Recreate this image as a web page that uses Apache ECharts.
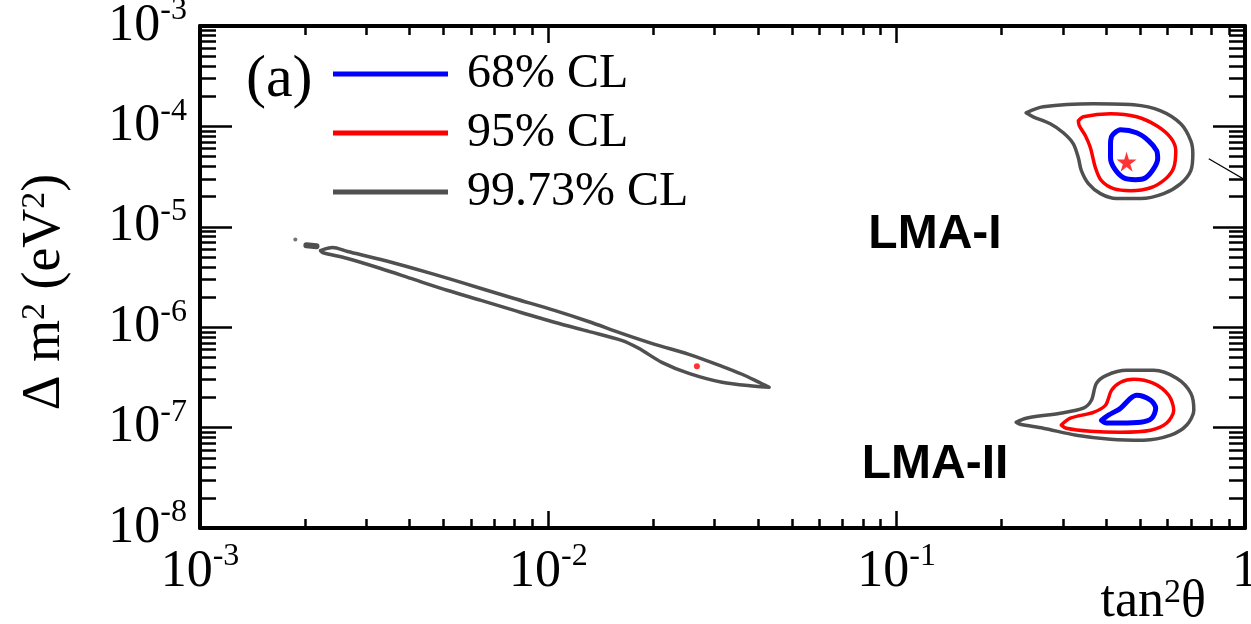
<!DOCTYPE html>
<html><head><meta charset="utf-8">
<script src="https://cdn.jsdelivr.net/npm/echarts@6/dist/echarts.min.js"></script>
<style>html,body{margin:0;padding:0;background:#fff}#c{width:1251px;height:624px}</style>
</head><body><div id="c"></div>
<script>
// ---- axis ticks ----
const xMajorTicks = [0.001, 0.01, 0.1, 1];
const xMinorTicks = [0.002,0.003,0.004,0.005,0.006,0.007,0.008,0.009,
                     0.02,0.03,0.04,0.05,0.06,0.07,0.08,0.09,
                     0.2,0.3,0.4,0.5,0.6,0.7,0.8,0.9];
const yMajorTicks = [1e-8, 1e-7, 1e-6, 1e-5, 1e-4, 1e-3];
const yMinorTicks = [2e-8,3e-8,4e-8,5e-8,6e-8,7e-8,8e-8,9e-8,
                     2e-7,3e-7,4e-7,5e-7,6e-7,7e-7,8e-7,9e-7,
                     2e-6,3e-6,4e-6,5e-6,6e-6,7e-6,8e-6,9e-6,
                     2e-5,3e-5,4e-5,5e-5,6e-5,7e-5,8e-5,9e-5,
                     2e-4,3e-4,4e-4,5e-4,6e-4,7e-4,8e-4,9e-4];
const legendNames = ['68% CL', '95% CL', '99.73% CL'];

// ---- contours [tan^2 theta, delta m^2] ----
const lma1Gray = [[0.2353,1.365e-4],[0.2634,1.566e-4],[0.3671,1.678e-4],[0.4788,1.639e-4],[0.5728,1.429e-4],
  [0.6540,1.061e-4],[0.6990,7.19e-5],[0.7083,5.34e-5],[0.6990,3.62e-5],[0.6540,2.69e-5],[0.5843,2.14e-5],
  [0.5016,1.91e-5],[0.4277,1.91e-5],[0.3846,2.14e-5],[0.3552,2.69e-5],[0.3390,3.62e-5],[0.3323,4.87e-5],
  [0.3215,6.71e-5],[0.3009,8.64e-5],[0.2760,1.061e-4],[0.2465,1.246e-4],[0.2353,1.365e-4]];
const lma1Red = [[0.3323,1.137e-4],[0.3436,1.246e-4],[0.4110,1.334e-4],[0.4885,1.246e-4],[0.5578,1.014e-4],
  [0.6120,7.70e-5],[0.6327,5.72e-5],[0.6243,3.88e-5],[0.5921,3.01e-5],[0.5360,2.45e-5],[0.4694,2.29e-5],
  [0.4193,2.40e-5],[0.3871,2.88e-5],[0.3720,3.88e-5],[0.3599,6.13e-5],[0.3482,8.07e-5],[0.3345,1.014e-4],
  [0.3323,1.137e-4]];
const lma1Blue = [[0.4193,8.44e-5],[0.4393,9.25e-5],[0.4885,8.64e-5],[0.5289,7.19e-5],[0.5578,5.72e-5],
  [0.5615,4.76e-5],[0.5468,3.79e-5],[0.5185,3.08e-5],[0.4852,2.95e-5],[0.4481,3.08e-5],[0.4221,3.79e-5],
  [0.4110,4.87e-5],[0.4110,6.71e-5],[0.4137,7.88e-5],[0.4193,8.44e-5]];
const bestFit = [[0.4571,4.45e-5]];

const lma2Gray = [[0.2203,1.13e-7],[0.2353,1.24e-7],[0.2949,1.39e-7],[0.3436,1.56e-7],[0.3623,1.87e-7],
  [0.3745,2.76e-7],[0.4002,3.32e-7],[0.4571,3.72e-7],[0.5468,3.72e-7],[0.6368,3.10e-7],[0.6990,2.20e-7],
  [0.7130,1.49e-7],[0.6806,1.06e-7],[0.6120,8.41e-8],[0.5117,7.50e-8],[0.4110,7.67e-8],[0.3280,8.41e-8],
  [0.2634,9.86e-8],[0.2262,1.08e-7],[0.2203,1.13e-7]];
const lma2Red = [[0.2969,1.06e-7],[0.3152,1.24e-7],[0.3671,1.42e-7],[0.3975,1.67e-7],[0.4137,2.35e-7],
  [0.4393,2.83e-7],[0.4788,3.03e-7],[0.5468,2.76e-7],[0.6039,2.10e-7],[0.6243,1.49e-7],[0.5960,1.11e-7],
  [0.5360,9.42e-8],[0.4393,9.00e-8],[0.3599,9.21e-8],[0.3069,9.86e-8],[0.2969,1.06e-7]];
const lma2Blue = [[0.3871,1.18e-7],[0.4056,1.33e-7],[0.4393,1.56e-7],[0.4694,1.96e-7],[0.4885,2.10e-7],
  [0.5360,1.87e-7],[0.5541,1.56e-7],[0.5396,1.24e-7],[0.5016,1.13e-7],[0.4393,1.11e-7],[0.4002,1.11e-7],
  [0.3871,1.18e-7]];

const lowGray = [[2.218e-3,5.80e-6],[2.402e-3,6.21e-6],[2.652e-3,5.67e-6],[3.302e-3,4.72e-6],[4.111e-3,3.84e-6],
  [5.150e-3,3.06e-6],[6.411e-3,2.43e-6],[7.980e-3,1.93e-6],[1.041e-2,1.47e-6],[1.304e-2,1.14e-6],
  [1.623e-2,8.68e-7],[2.021e-2,6.75e-7],[2.532e-2,5.37e-7],[3.152e-2,4.08e-7],[3.599e-2,3.40e-7],
  [3.976e-2,2.89e-7],[4.305e-2,2.52e-7],
  [3.924e-2,2.58e-7],[3.152e-2,2.83e-7],[2.532e-2,3.47e-7],[2.117e-2,4.47e-7],[1.817e-2,6.16e-7],
  [1.623e-2,7.39e-7],[1.304e-2,9.08e-7],[1.041e-2,1.12e-6],[7.980e-3,1.47e-6],[6.411e-3,1.85e-6],
  [5.150e-3,2.32e-6],[4.111e-3,2.99e-6],[3.302e-3,3.84e-6],[2.652e-3,4.83e-6],[2.247e-3,5.54e-6],
  [2.218e-3,5.80e-6]];
const lowIsland = [[2.02e-3,6.55e-6],[2.16e-3,6.40e-6]];
const lowSpeck = [[1.878e-3,7.46e-6]];
const lowRed = [[2.670e-2,4.08e-7]];
const strayLine = [[0.787,4.76e-5],[1.069,2.57e-5]];

// ---- helpers ----
const SERIF = '"Liberation Serif", "Times New Roman", serif';
const SANS = '"Liberation Sans", Arial, sans-serif';
const GRAY = '#505050', RED = '#ff0000', BLUE = '#0000ff';
function fmt(v) {
  const e = Math.round(Math.log10(v));
  return e === 0 ? '{b|1}' : '{b|10}{s|' + e + '}';
}
const labelRich = {
  b: { fontFamily: SERIF, fontSize: 52, lineHeight: 62, color: '#000' },
  s: { fontFamily: SERIF, fontSize: 32, lineHeight: 32, verticalAlign: 'top', color: '#000' }
};
function contour(name, data, color, width, z) {
  return { type: 'line', name: name, data: data, showSymbol: false, symbol: 'none', smooth: 0.3,
    lineStyle: { color: color, width: width, cap: 'round', join: 'round' }, itemStyle: { color: color },
    silent: true, animation: false, z: z };
}
function logAxis(pos, min, max, ticks, len, withLine, withLabel) {
  return {
    type: 'log', logBase: 10, min: min, max: max, position: pos, gridIndex: 0,
    axisLine: { show: withLine, onZero: false, lineStyle: { color: '#000', width: 4 } },
    axisTick: { show: true, inside: true, length: len, customValues: ticks, lineStyle: { color: '#000', width: 2.5 } },
    axisLabel: withLabel ? { show: true, customValues: ticks, formatter: fmt, rich: labelRich, margin: 13, hideOverlap: false } : { show: false },
    splitLine: { show: false }, minorTick: { show: false }, minorSplitLine: { show: false }
  };
}
const supRich = { s: { fontFamily: SERIF, fontSize: 34, verticalAlign: 'top', fill: '#000' } };

const chart = echarts.init(document.getElementById('c'), null, { renderer: 'canvas' });
chart.setOption({
  animation: false,
  backgroundColor: '#fff',
  grid: { left: 200, right: 6, top: 26, bottom: 96, containLabel: false, outerBoundsMode: 'none' },
  xAxis: [
    logAxis('bottom', 0.001, 1, xMajorTicks, 17, true, true),
    logAxis('bottom', 0.001, 1, xMinorTicks, 9, false, false),
    logAxis('top', 0.001, 1, xMajorTicks, 17, true, false),
    logAxis('top', 0.001, 1, xMinorTicks, 9, false, false)
  ],
  yAxis: [
    logAxis('left', 1e-8, 1e-3, yMajorTicks, 32, true, true),
    logAxis('left', 1e-8, 1e-3, yMinorTicks, 16, false, false),
    logAxis('right', 1e-8, 1e-3, yMajorTicks, 32, true, false),
    logAxis('right', 1e-8, 1e-3, yMinorTicks, 16, false, false)
  ],
  legend: {
    data: legendNames, orient: 'vertical', left: 328, top: 45, itemGap: 11,
    icon: 'rect', itemWidth: 115, itemHeight: 5, selectedMode: false,
    textStyle: { fontFamily: SERIF, fontSize: 48, lineHeight: 48, color: '#000', padding: [0, 0, 0, 14] }
  },
  graphic: [
    { type: 'text', x: 246, y: 50, style: { text: '(a)', fontFamily: SERIF, fontSize: 60, fill: '#000' } },
    { type: 'text', x: 45, y: 292, rotation: Math.PI / 2,
      style: { text: 'Δ m{s|2} (eV{s|2})', align: 'center', verticalAlign: 'middle', fontFamily: SERIF, fontSize: 54, fill: '#000',
        rich: supRich } },
    { type: 'text', x: 1206, y: 602,
      style: { text: 'tan{s|2}θ', align: 'right', verticalAlign: 'middle', fontFamily: SERIF, fontSize: 52, fill: '#000',
        rich: supRich } },
    { type: 'text', x: 935, y: 235, style: { text: 'LMA-I', align: 'center', verticalAlign: 'middle',
      fontFamily: SANS, fontWeight: 'bold', fontSize: 48, fill: '#000' } },
    { type: 'text', x: 935, y: 465, style: { text: 'LMA-II', align: 'center', verticalAlign: 'middle',
      fontFamily: SANS, fontWeight: 'bold', fontSize: 48, fill: '#000' } }
  ],
  series: [
    contour('99.73% CL', lma1Gray, GRAY, 3.5, 2),
    contour('99.73% CL', lma2Gray, GRAY, 3.5, 2),
    contour('99.73% CL', lowGray, GRAY, 3.5, 2),
    Object.assign(contour('99.73% CL', lowIsland, GRAY, 6, 2), { smooth: false }),
    { type: 'scatter', name: '99.73% CL', data: lowSpeck, symbol: 'circle', symbolSize: 4, itemStyle: { color: GRAY }, silent: true, z: 2 },
    contour('95% CL', lma1Red, RED, 3.5, 3),
    contour('95% CL', lma2Red, RED, 3.5, 3),
    { type: 'scatter', name: '95% CL', data: lowRed, symbol: 'circle', symbolSize: 6, itemStyle: { color: RED }, silent: true, z: 3 },
    contour('68% CL', lma1Blue, BLUE, 5, 4),
    contour('68% CL', lma2Blue, BLUE, 5, 4),
    { type: 'scatter', name: 'best fit', data: bestFit, symbolSize: 20, itemStyle: { color: RED }, silent: true, z: 5,
      symbol: 'path://M50,0 L61,35 L98,35 L68,57 L79,91 L50,70 L21,91 L32,57 L2,35 L39,35 Z' },
    { type: 'line', name: 'stray', data: strayLine, showSymbol: false, symbol: 'none', clip: false,
      lineStyle: { color: '#000', width: 1.2 }, silent: true, z: 6 }
  ]
});
</script>
</body></html>
